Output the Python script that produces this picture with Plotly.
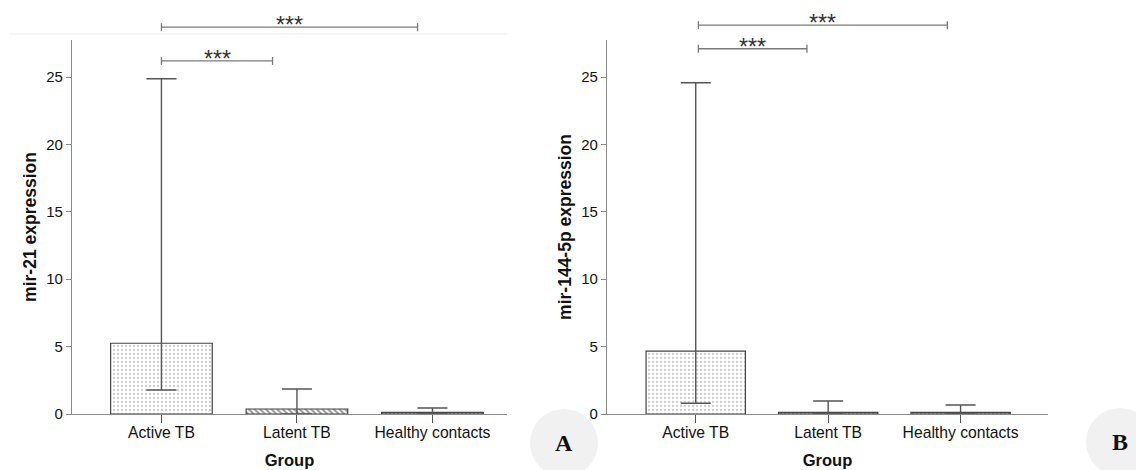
import plotly.graph_objects as go

# ---------------- data ----------------
categories = ["Active TB", "Latent TB", "Healthy contacts"]

mir21_value = [5.25, 0.37, 0.12]
mir21_upper = [24.87, 1.85, 0.45]
mir21_lower = [1.78, 0.0, 0.0]

mir144_value = [4.67, 0.12, 0.12]
mir144_upper = [24.58, 0.96, 0.67]
mir144_lower = [0.80, 0.0, 0.0]

y_ticks = [0, 5, 10, 15, 20, 25]

# significance brackets (x in category units, y in data units)
sigA_x0 = [0.0, 0.0]
sigA_x1 = [0.82, 1.89]
sigA_y = [26.2, 28.7]
sigA_label = ["***", "***"]

sigB_x0 = [0.02, 0.02]
sigB_x1 = [0.84, 1.90]
sigB_y = [27.1, 28.85]
sigB_label = ["***", "***"]

panel_letters = ["A", "B"]

# ---------------- layout constants ----------------
# page body has an 8px margin; figure placed so it covers the window exactly
OFF = 8
WIN_W, WIN_H = 1144, 470
W, H = WIN_W - OFF, WIN_H - OFF


def px2x(px):
    return (px - OFF) / W


def px2y(py):
    return (WIN_H - py) / H


YMAX = 27.75
Y_DOM = [px2y(414), px2y(40)]
XA_DOM = [px2x(72), px2x(507)]
XB_DOM = [px2x(607), px2x(1048)]
XA_RANGE = [-0.66, 2.55]
XB_RANGE = [-0.67, 2.66]

AX_COL = "#8a8a8a"
ERR_COL = "#555555"
FONT = "Liberation Sans, Arial, sans-serif"

pat_shapes_A = [".", "\\", "."]
pat_fg_A = ["#9a9a9a", "#2a2a2a", "#222222"]
pat_sol_A = [0.25, 0.5, 0.6]
pat_shapes_B = [".", ".", "."]
pat_fg_B = ["#9a9a9a", "#222222", "#222222"]
pat_sol_B = [0.25, 0.6, 0.6]


def bar_trace(vals, up, lo, xa, ya, shapes, fgs, sols):
    return go.Bar(
        x=categories, y=vals, xaxis=xa, yaxis=ya, width=0.75,
        marker=dict(
            color="white",
            line=dict(color="#444444", width=1.2),
            pattern=dict(shape=shapes, fgcolor=fgs, bgcolor="white",
                         size=4, solidity=sols, fillmode="overlay"),
        ),
        error_y=dict(
            type="data", symmetric=False,
            array=[u - v for u, v in zip(up, vals)],
            arrayminus=[v - l for v, l in zip(vals, lo)],
            color=ERR_COL, thickness=1.4, width=15,
        ),
        showlegend=False, hoverinfo="skip",
    )


fig = go.Figure()
fig.add_trace(bar_trace(mir21_value, mir21_upper, mir21_lower, "x", "y",
                        pat_shapes_A, pat_fg_A, pat_sol_A))
fig.add_trace(bar_trace(mir144_value, mir144_upper, mir144_lower, "x2", "y2",
                        pat_shapes_B, pat_fg_B, pat_sol_B))


def to_paper(v):
    return Y_DOM[0] + v / YMAX * (Y_DOM[1] - Y_DOM[0])


shapes = []
annotations = []
tick_h = 4 / H
for xref, x0s, x1s, ys, labs in [("x", sigA_x0, sigA_x1, sigA_y, sigA_label),
                                  ("x2", sigB_x0, sigB_x1, sigB_y, sigB_label)]:
    for x0, x1, yv, lab in zip(x0s, x1s, ys, labs):
        yp = to_paper(yv)
        ln = dict(color="#7a7a7a", width=1.3)
        shapes.append(dict(type="line", xref=xref, yref="paper",
                           x0=x0, x1=x1, y0=yp, y1=yp, line=ln))
        for xe in (x0, x1):
            shapes.append(dict(type="line", xref=xref, yref="paper",
                               x0=xe, x1=xe, y0=yp - tick_h, y1=yp + tick_h, line=ln))
        annotations.append(dict(x=(x0 + x1) / 2, y=yp, xref=xref, yref="paper",
                                text=lab, showarrow=False, yanchor="middle",
                                yshift=2,
                                font=dict(family=FONT, size=23, color="#333333")))

# faint frame line at top of panel A
shapes.append(dict(type="line", xref="paper", yref="paper",
                   x0=px2x(9), x1=px2x(507), y0=px2y(34), y1=px2y(34),
                   line=dict(color="#ebebeb", width=1)))

# panel letter badges
for (cx, cy), letter in zip([(564, 443), (1120, 442)], panel_letters):
    shapes.append(dict(type="circle", xref="paper", yref="paper",
                       xsizemode="pixel", ysizemode="pixel",
                       xanchor=px2x(cx), yanchor=px2y(cy),
                       x0=-34, x1=34, y0=-34, y1=34,
                       fillcolor="#f1f1f1", line=dict(width=0), layer="below"))
    annotations.append(dict(x=px2x(cx), y=px2y(cy), xref="paper", yref="paper",
                            text=f"<b>{letter}</b>", showarrow=False,
                            xanchor="center", yanchor="middle",
                            font=dict(family="Liberation Serif, Times New Roman, serif",
                                      size=24, color="#111111")))

xaxis_common = dict(
    type="category", showline=True, linecolor=AX_COL, linewidth=1.3,
    ticks="outside", ticklen=8, tickcolor=ERR_COL, tickwidth=1.3,
    ticklabelstandoff=-4,
    tickfont=dict(family=FONT, size=15.7, color="#111111"),
    showgrid=False, zeroline=False, automargin=False, fixedrange=True,
    title=dict(text="<b>Group</b>", font=dict(family=FONT, size=16.5, color="#111111"),
               standoff=14),
)
yaxis_common = dict(
    range=[0, YMAX], domain=Y_DOM, tickvals=y_ticks,
    showline=True, linecolor=AX_COL, linewidth=1.3,
    ticks="outside", ticklen=5, tickcolor=AX_COL, tickwidth=1.3,
    tickfont=dict(family=FONT, size=15, color="#111111"),
    showgrid=False, zeroline=False, automargin=False, fixedrange=True,
)

fig.update_layout(
    width=W, height=H, margin=dict(l=0, r=0, t=0, b=0),
    paper_bgcolor="white", plot_bgcolor="rgba(0,0,0,0)",
    template="none",
    xaxis=dict(xaxis_common, domain=XA_DOM, range=XA_RANGE, anchor="y"),
    xaxis2=dict(xaxis_common, domain=XB_DOM, range=XB_RANGE, anchor="y2"),
    yaxis=dict(yaxis_common, anchor="x",
               title=dict(text="<b>mir-21 expression</b>",
                          font=dict(family=FONT, size=17.5, color="#111111"), standoff=5)),
    yaxis2=dict(yaxis_common, anchor="x2",
                title=dict(text="<b>mir-144-5p expression</b>",
                           font=dict(family=FONT, size=17.5, color="#111111"), standoff=5)),
    shapes=shapes, annotations=annotations, bargap=0.25,
)

fig.write_html("out.html")
